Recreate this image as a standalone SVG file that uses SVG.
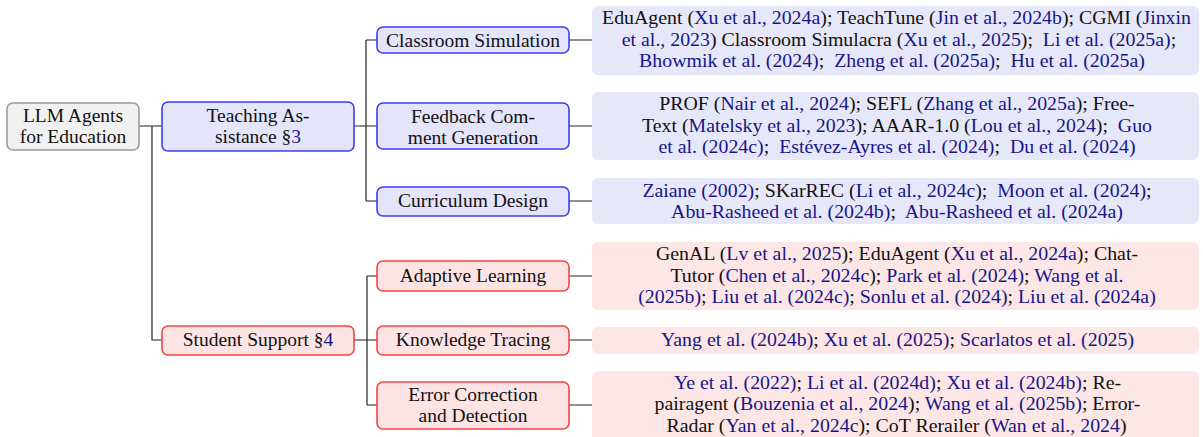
<svg xmlns="http://www.w3.org/2000/svg" width="1203" height="437" viewBox="0 0 1203 437">
<style>
text{font-family:"Liberation Serif","Times New Roman",serif;font-size:19.5px;fill:#111;text-anchor:middle}
.r text{font-size:19.85px;white-space:pre}
.c{fill:#16168a}
.root{fill:#f1f1f1;stroke:#9a9a9a;stroke-width:1.6}
.bn{fill:#e4e4fb;stroke:#3d3df5;stroke-width:1.6}
.rn{fill:#fde4e4;stroke:#f54545;stroke-width:1.6}
.bt{fill:#e7e7fa}
.rt{fill:#fde6e6}
.ln{fill:none;stroke:#222;stroke-width:1.2}
</style>
<rect width="1203" height="437" fill="#fff"/>
<g id="connectors">
<path class="ln" d="M139,126H162M152,126V340H162"/>
<path class="ln" d="M354,126H377M366,40V201M366,40H377M366,201H377"/>
<path class="ln" d="M354,340H377M367,276V405M367,276H377M367,405H377"/>
<path class="ln" d="M569,40H592M569,126H592M569,201H592M569,276H592M569,340H592M569,405H592"/>
</g>
<g id="root">
<rect class="root" x="7" y="103" width="132" height="47" rx="6"/>
<text x="73" y="122">LLM Agents</text>
<text x="73" y="143">for Education</text>
</g>
<g id="teaching">
<rect class="bn" x="162" y="102" width="192" height="49" rx="6"/>
<text x="258" y="121.5">Teaching As-</text>
<text x="258" y="142.5">sistance §<tspan class="c">3</tspan></text>
</g>
<g id="student">
<rect class="rn" x="162" y="326" width="192" height="29" rx="6"/>
<text x="258" y="346">Student Support §<tspan class="c">4</tspan></text>
</g>
<g id="classroom">
<rect class="bn" x="377" y="27" width="192" height="26" rx="6"/>
<text x="473" y="47">Classroom Simulation</text>
</g>
<g id="feedback">
<rect class="bn" x="377" y="103" width="192" height="46" rx="6"/>
<text x="473" y="122.5">Feedback Com-</text>
<text x="473" y="143.5">ment Generation</text>
</g>
<g id="curriculum">
<rect class="bn" x="377" y="187" width="192" height="29" rx="6"/>
<text x="473" y="207">Curriculum Design</text>
</g>
<g id="adaptive">
<rect class="rn" x="377" y="261" width="192" height="30" rx="6"/>
<text x="473" y="282">Adaptive Learning</text>
</g>
<g id="knowledge">
<rect class="rn" x="377" y="326" width="192" height="29" rx="6"/>
<text x="473" y="346">Knowledge Tracing</text>
</g>
<g id="error">
<rect class="rn" x="377" y="382" width="192" height="47" rx="6"/>
<text x="473" y="401">Error Correction</text>
<text x="473" y="422">and Detection</text>
</g>
<g id="classroom-refs" class="r">
<rect class="bt" x="592" y="6" width="607" height="69" rx="6"/>
<text x="896.5" y="24">EduAgent (<tspan class="c">Xu et al., 2024a</tspan>); TeachTune (<tspan class="c">Jin et al., 2024b</tspan>); CGMI (<tspan class="c">Jinxin</tspan></text>
<text x="899" y="46"><tspan class="c">et al., 2023</tspan>) Classroom Simulacra (<tspan class="c">Xu et al., 2025</tspan>);  <tspan class="c">Li et al. (2025a)</tspan>;</text>
<text x="892" y="67"><tspan class="c">Bhowmik et al. (2024)</tspan>;  <tspan class="c">Zheng et al. (2025a)</tspan>;  <tspan class="c">Hu et al. (2025a)</tspan></text>
</g>
<g id="feedback-refs" class="r">
<rect class="bt" x="592" y="92" width="607" height="68" rx="6"/>
<text x="897" y="110">PROF (<tspan class="c">Nair et al., 2024</tspan>); SEFL (<tspan class="c">Zhang et al., 2025a</tspan>); Free-</text>
<text x="897" y="132">Text (<tspan class="c">Matelsky et al., 2023</tspan>); AAAR-1.0 (<tspan class="c">Lou et al., 2024</tspan>);  <tspan class="c">Guo</tspan></text>
<text x="897" y="153"><tspan class="c">et al. (2024c)</tspan>;  <tspan class="c">Estévez-Ayres et al. (2024)</tspan>;  <tspan class="c">Du et al. (2024)</tspan></text>
</g>
<g id="curriculum-refs" class="r">
<rect class="bt" x="592" y="178" width="607" height="46" rx="6"/>
<text x="897" y="196.5"><tspan class="c">Zaiane (2002)</tspan>; SKarREC (<tspan class="c">Li et al., 2024c</tspan>);  <tspan class="c">Moon et al. (2024)</tspan>;</text>
<text x="897" y="218"><tspan class="c">Abu-Rasheed et al. (2024b)</tspan>;  <tspan class="c">Abu-Rasheed et al. (2024a)</tspan></text>
</g>
<g id="adaptive-refs" class="r">
<rect class="rt" x="592" y="242" width="607" height="68" rx="6"/>
<text x="897" y="260">GenAL (<tspan class="c">Lv et al., 2025</tspan>); EduAgent (<tspan class="c">Xu et al., 2024a</tspan>); Chat-</text>
<text x="897" y="282">Tutor (<tspan class="c">Chen et al., 2024c</tspan>); <tspan class="c">Park et al. (2024)</tspan>; <tspan class="c">Wang et al.</tspan></text>
<text x="897" y="303"><tspan class="c">(2025b)</tspan>; <tspan class="c">Liu et al. (2024c)</tspan>; <tspan class="c">Sonlu et al. (2024)</tspan>; <tspan class="c">Liu et al. (2024a)</tspan></text>
</g>
<g id="knowledge-refs" class="r">
<rect class="rt" x="592" y="327" width="607" height="27" rx="6"/>
<text x="897.5" y="346"><tspan class="c">Yang et al. (2024b)</tspan>; <tspan class="c">Xu et al. (2025)</tspan>; <tspan class="c">Scarlatos et al. (2025)</tspan></text>
</g>
<g id="error-refs" class="r">
<rect class="rt" x="592" y="371" width="607" height="72" rx="6"/>
<text x="897.5" y="388.5"><tspan class="c">Ye et al. (2022)</tspan>; <tspan class="c">Li et al. (2024d)</tspan>; <tspan class="c">Xu et al. (2024b)</tspan>; Re-</text>
<text x="897.5" y="410">pairagent (<tspan class="c">Bouzenia et al., 2024</tspan>); <tspan class="c">Wang et al. (2025b)</tspan>; Error-</text>
<text x="896.5" y="431.5">Radar (<tspan class="c">Yan et al., 2024c</tspan>); CoT Rerailer (<tspan class="c">Wan et al., 2024</tspan>)</text>
</g>
</svg>
